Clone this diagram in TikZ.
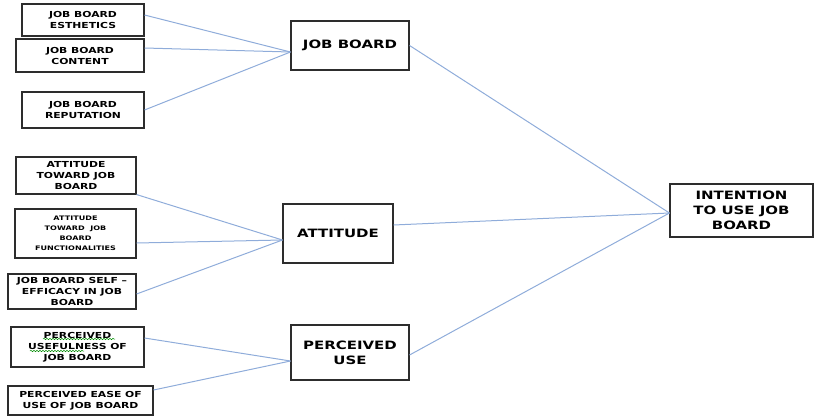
\documentclass[tikz,border=0pt]{standalone}
\usepackage{fontspec}
\setmainfont{DejaVu Sans}[FakeStretch=1.3]
\usetikzlibrary{decorations.pathmorphing}
\definecolor{linkblue}{RGB}{143,172,218}
\definecolor{boxgray}{RGB}{45,45,45}
\tikzset{
  box/.style={draw=boxgray, line width=1.1pt, align=center, inner sep=1pt,
    font=\bfseries\fontsize{8.3}{11}\selectfont},
  tinybox/.style={box, font=\bfseries\fontsize{6.2}{10}\selectfont},
  bigbox/.style={box, font=\bfseries\fontsize{11.5}{15}\selectfont},
  link/.style={draw=linkblue, line width=1pt},
  squiggle/.style={draw=green!55!black, line width=0.5pt, decorate,
    decoration={snake, amplitude=0.7pt, segment length=3pt}}
}

\begin{document}
\begin{tikzpicture}[x=1pt,y=-1pt]
  \useasboundingbox (0,0) rectangle (815,416);
  % factors of the job board
  \node[box, minimum width=122, minimum height=32] (esth) at (83,20) {JOB BOARD\\ESTHETICS};
  \node[box, minimum width=128, minimum height=33] (cont) at (80,55.5) {JOB BOARD\\CONTENT};
  \node[box, minimum width=122, minimum height=36] (rep) at (83,110) {JOB BOARD\\REPUTATION};
  \node[bigbox, minimum width=118, minimum height=49] (jb) at (350,45.5) {JOB BOARD};
  % factors of the attitude
  \node[box, minimum width=120, minimum height=37] (atj) at (76,175.5) {ATTITUDE\\TOWARD JOB\\BOARD};
  \node[tinybox, minimum width=121, minimum height=49] (func) at (75.5,233.5) {ATTITUDE\\TOWARD~ JOB\\BOARD\\FUNCTIONALITIES};
  \node[box, minimum width=128, minimum height=35] (self) at (72,291.5) {JOB BOARD SELF --\\EFFICACY IN JOB\\BOARD};
  \node[bigbox, minimum width=110, minimum height=59] (att) at (338,233.5) {ATTITUDE};
  % factors of the perceived use
  \node[box, minimum width=133, minimum height=40] (usef) at (77.5,347) {PERCEIVED\\USEFULNESS OF\\JOB BOARD};
  \node[box, minimum width=145, minimum height=29] (ease) at (80.5,400.5) {PERCEIVED EASE OF\\USE OF JOB BOARD};
  \node[bigbox, minimum width=118, minimum height=55] (pu) at (350,352.5) {PERCEIVED\\USE};
  % outcome
  \node[bigbox, minimum width=143, minimum height=53] (int) at (741.5,210.5) {INTENTION\\TO USE JOB\\BOARD};

  \draw[squiggle] (43,339) -- (115,339);
  \draw[squiggle] (30,351) -- (84,351);

  \coordinate (jbin) at ([yshift=-6.5]jb.west);
  \coordinate (attin) at ([yshift=-6.5]att.west);
  \coordinate (puin) at ([yshift=-8.5]pu.west);
  \coordinate (intin) at ([yshift=-2.5]int.west);

  \draw[link] ([yshift=5]esth.east) -- (jbin);
  \draw[link] ([yshift=7.5]cont.east) -- (jbin);
  \draw[link] (rep.east) -- (jbin);
  \draw[link] (atj.south east) -- (attin);
  \draw[link] ([yshift=-9.5]func.east) -- (attin);
  \draw[link] ([yshift=-2.5]self.east) -- (attin);
  \draw[link] ([yshift=9]usef.east) -- (puin);
  \draw[link] ([yshift=10.5]ease.east) -- (puin);
  \draw[link] (jb.east) -- (intin);
  \draw[link] ([yshift=8.5]att.east) -- (intin);
  \draw[link] ([yshift=-2.5]pu.east) -- (intin);
\end{tikzpicture}
\end{document}
